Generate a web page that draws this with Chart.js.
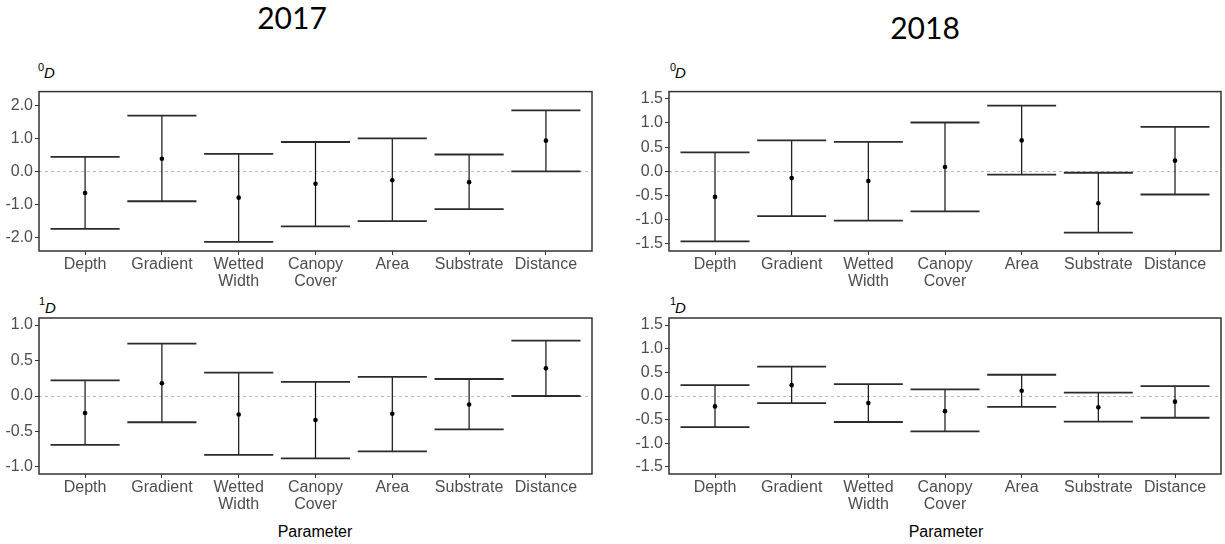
<!DOCTYPE html>
<html><head><meta charset="utf-8">
<script src="https://cdn.jsdelivr.net/npm/chart.js@4.4.0/dist/chart.umd.min.js"></script>
<style>
html,body{margin:0;padding:0;background:#fff;}
body{width:1225px;height:544px;overflow:hidden;position:relative;font-family:"Liberation Sans",Arial,sans-serif;}
.abs{position:absolute;white-space:nowrap;}
canvas{position:absolute;}
.yr{font-family:Lato,"Open Sans",sans-serif;font-size:30px;line-height:30px;width:200px;text-align:center;color:#000;}
.sup{font-size:11px;line-height:11px;color:#000;}
.dl{font-size:15px;line-height:15px;font-style:italic;color:#000;}
.xt{font-size:16px;line-height:16px;width:200px;text-align:center;color:#000;}
</style></head><body>
<div class="abs yr" style="left:192px;top:2px;">2017</div>
<div class="abs yr" style="left:825px;top:12px;">2018</div>

<div class="abs sup" style="left:38px;top:62px;">0</div><div class="abs dl" style="left:44px;top:65px;">D</div>
<div class="abs sup" style="left:670px;top:62px;">0</div><div class="abs dl" style="left:675px;top:65px;">D</div>
<div class="abs sup" style="left:39px;top:296px;">1</div><div class="abs dl" style="left:45px;top:300px;">D</div>
<div class="abs sup" style="left:670px;top:296px;">1</div><div class="abs dl" style="left:675px;top:300px;">D</div>

<canvas id="c1" width="610" height="220" style="left:0;top:80px;"></canvas>
<canvas id="c2" width="605" height="220" style="left:620px;top:80px;"></canvas>
<canvas id="c3" width="610" height="215" style="left:0;top:300px;"></canvas>
<canvas id="c4" width="605" height="215" style="left:620px;top:300px;"></canvas>

<div class="abs xt" style="left:215px;top:524px;">Parameter</div>
<div class="abs xt" style="left:846px;top:524px;">Parameter</div>

<script>
// ---- data ----
const categories = ['Depth', 'Gradient', 'Wetted Width', 'Canopy Cover', 'Area', 'Substrate', 'Distance'];

const d0_2017_mean = [-0.66, 0.38, -0.80, -0.38, -0.27, -0.33, 0.93];
const d0_2017_lo   = [-1.75, -0.91, -2.14, -1.67, -1.51, -1.15, 0.00];
const d0_2017_hi   = [0.44, 1.69, 0.53, 0.89, 1.00, 0.51, 1.85];

const d0_2018_mean = [-0.53, -0.14, -0.20, 0.09, 0.64, -0.66, 0.22];
const d0_2018_lo   = [-1.45, -0.93, -1.02, -0.83, -0.07, -1.27, -0.48];
const d0_2018_hi   = [0.39, 0.64, 0.61, 1.01, 1.36, -0.03, 0.92];

const d1_2017_mean = [-0.24, 0.18, -0.26, -0.34, -0.25, -0.12, 0.39];
const d1_2017_lo   = [-0.69, -0.37, -0.83, -0.88, -0.78, -0.47, 0.00];
const d1_2017_hi   = [0.22, 0.74, 0.33, 0.20, 0.27, 0.24, 0.78];

const d1_2018_mean = [-0.22, 0.23, -0.15, -0.32, 0.11, -0.24, -0.12];
const d1_2018_lo   = [-0.66, -0.15, -0.55, -0.75, -0.23, -0.54, -0.46];
const d1_2018_hi   = [0.23, 0.62, 0.25, 0.14, 0.45, 0.07, 0.21];

const ticks_d0_2017 = [-2, -1, 0, 1, 2];
const ticks_d0_2018 = [-1.5, -1, -0.5, 0, 0.5, 1, 1.5];
const ticks_d1_2017 = [-1, -0.5, 0, 0.5, 1];
const ticks_d1_2018 = [-1.5, -1, -0.5, 0, 0.5, 1, 1.5];

// ---- drawing ----
Chart.defaults.font.family = '"Liberation Sans", Arial, sans-serif';

const errorBarPlugin = {
  id: 'errbars',
  beforeDatasetsDraw(chart) {
    const { ctx, chartArea: a, scales: { x, y } } = chart;
    ctx.save();
    const y0 = y.getPixelForValue(0);
    ctx.strokeStyle = '#b8b8b8'; ctx.lineWidth = 1; ctx.setLineDash([3, 3]);
    ctx.beginPath(); ctx.moveTo(a.left, Math.round(y0) + 0.5); ctx.lineTo(a.right, Math.round(y0) + 0.5); ctx.stroke();
    ctx.setLineDash([]);
    const ds = chart.data.datasets[0];
    ds.errLo.forEach((lo, i) => {
      const hi = ds.errHi[i];
      const px = x.getPixelForValue(i);
      const pl = x.getPixelForValue(i - 0.45), pr = x.getPixelForValue(i + 0.45);
      const yl = y.getPixelForValue(lo), yh = y.getPixelForValue(hi);
      ctx.strokeStyle = '#111'; ctx.lineWidth = 1.2;
      ctx.beginPath(); ctx.moveTo(px, yl); ctx.lineTo(px, yh); ctx.stroke();
      ctx.strokeStyle = '#2b2b2b'; ctx.lineWidth = 1.8;
      ctx.beginPath(); ctx.moveTo(pl, yl); ctx.lineTo(pr, yl); ctx.moveTo(pl, yh); ctx.lineTo(pr, yh); ctx.stroke();
    });
    ctx.restore();
  },
  afterDraw(chart) {
    const { ctx, chartArea: a } = chart;
    ctx.save();
    ctx.strokeStyle = '#333'; ctx.lineWidth = 1.5;
    ctx.strokeRect(a.left, a.top, a.right - a.left, a.bottom - a.top);
    ctx.restore();
  }
};

function makePanel(id, mean, lo, hi, yTicks, yMin, yMax, yAxisW, xAxisH, padTop, padRight) {
  new Chart(document.getElementById(id), {
    type: 'scatter',
    data: {
      datasets: [{
        data: mean.map((v, i) => ({ x: i, y: v })),
        errLo: lo, errHi: hi,
        pointRadius: 2.3, pointBackgroundColor: '#000', pointBorderWidth: 0
      }]
    },
    options: {
      responsive: false, animation: false, events: [],
      layout: { padding: { top: padTop, right: padRight, left: 0, bottom: 0 } },
      plugins: { legend: { display: false }, tooltip: { enabled: false } },
      scales: {
        x: {
          type: 'linear', min: -0.6, max: 6.6,
          afterBuildTicks: s => { s.ticks = categories.map((c, i) => ({ value: i })); },
          afterFit: s => { s.height = xAxisH; },
          ticks: {
            callback: v => categories[v].split(' '),
            color: '#4d4d4d', font: { size: 16, lineHeight: 1.08 },
            padding: 1, maxRotation: 0, minRotation: 0, autoSkip: false
          },
          grid: { drawOnChartArea: false, tickLength: 4, tickColor: '#333', color: '#333' },
          border: { display: false }
        },
        y: {
          min: yMin, max: yMax,
          afterBuildTicks: s => { s.ticks = yTicks.map(v => ({ value: v })); },
          afterFit: s => { s.width = yAxisW; },
          ticks: {
            callback: v => Number(v).toFixed(1),
            color: '#4d4d4d', font: { size: 16 }, padding: 2
          },
          grid: { drawOnChartArea: false, tickLength: 4, tickColor: '#333', color: '#333' },
          border: { display: false }
        }
      }
    },
    plugins: [errorBarPlugin]
  });
}

makePanel('c1', d0_2017_mean, d0_2017_lo, d0_2017_hi, ticks_d0_2017, -2.42, 2.42, 39, 49, 4, 18);
makePanel('c2', d0_2018_mean, d0_2018_lo, d0_2018_hi, ticks_d0_2018, -1.65, 1.65, 49, 49, 4, 2);
makePanel('c3', d1_2017_mean, d1_2017_lo, d1_2017_hi, ticks_d1_2017, -1.1, 1.1, 39, 41, 18, 18);
makePanel('c4', d1_2018_mean, d1_2018_lo, d1_2018_hi, ticks_d1_2018, -1.65, 1.65, 49, 41, 18, 2);
</script>
</body></html>
